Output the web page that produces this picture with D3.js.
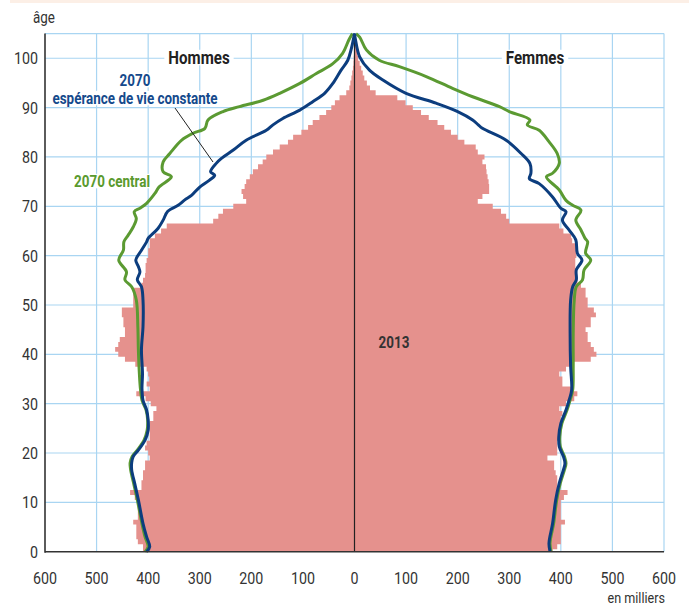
<!DOCTYPE html>
<html><head><meta charset="utf-8">
<script src="https://cdn.jsdelivr.net/npm/d3@7"></script>
<style>
html,body{margin:0;padding:0;background:#fff;}
svg text{font-family:Roboto,"Liberation Sans",sans-serif;}
</style></head>
<body><svg id="c" width="689" height="607"></svg>
<script>
// 2013 population by single age (0..105), thousands
const menValues = [410,410,420,423,423,423,429,420,420,420,420,426,435,413,413,410,410,406,406,397,
400,406,403,397,397,397,397,390,390,384,395,405,423,397,403,398,400,403,425,445,
458,464,458,455,445,445,448,448,451,451,429,429,429,429,413,410,406,405,405,403,
400,400,397,397,387,375,364,274,264,255,235,210,216,219,213,210,203,197,187,178,
171,158,145,129,119,103,90,81,68,55,45,38,29,16,10,8,6,4.5,3,2,
1.5,1,0.6,0.4,0.2,0.1];
const womenValues = [384,393,400,400,400,400,408,400,400,400,400,406,413,393,393,393,390,387,387,374,
393,393,393,400,400,400,400,400,403,397,410,426,432,420,403,403,397,410,422,458,
469,464,458,452,452,448,458,458,468,464,452,452,448,448,439,432,430,430,428,428,
430,430,432,422,420,405,397,300,294,284,268,239,248,261,261,260,258,256,255,248,
252,239,235,213,200,187,174,161,144,129,113,99,83,41,30,24,19,16,13,10,
7,5,3,2,1,0.5];
// 2070 projections: [age, thousands]
const menCentral = [[0,406],[1,400],[3,406],[5.7,412],[10.5,421],[13.8,428],[16.6,434],[18,435],[19.3,431],[20.6,421],[22.6,408],[24.6,402],[26.7,401],[28.7,404],[30.7,412],[33,415],[36,417],[41,419],[45.6,420],[51,423],[53.7,432],[55.1,445],[56.7,442],[59.1,457],[61.1,448],[62.8,447],[64.1,439],[65.8,429],[67.5,423],[68.9,427],[69.6,416],[70.6,403],[72.6,387],[73.9,379],[76,355],[77,371],[79,371],[80.7,358],[83.4,335],[84.8,313],[85.8,290],[87.5,284],[89.2,255],[90.2,223],[91.5,177],[92.9,145],[94.9,106],[96.9,74],[98.9,42],[101,23],[103.7,11],[105,4]];
const menConstant = [[0,403],[1,397],[3,403],[5.7,410],[10.5,419],[13.8,426],[16.6,432],[18,432],[19.3,429],[20.6,419],[22.6,406],[24.6,400],[26.7,400],[28.7,403],[30.7,410],[33,412],[36,411],[41,413],[45.6,410],[51,410],[53.7,413],[55.1,421],[56.7,416],[57.8,419],[59.1,424],[61.1,413],[62.8,403],[63.5,400],[65.5,381],[67.2,371],[69,362],[70.2,342],[71.3,329],[72.2,316],[73.9,300],[75.3,281],[76.3,271],[77,279],[78.7,268],[79.7,258],[81.4,235],[83.4,210],[85.4,171],[86.5,158],[87.8,139],[89.5,106],[91.2,81],[92.9,58],[94.9,42],[97.6,26],[99.6,13],[102,6],[105,0]];
const womenCentral = [[0,381],[1.7,379],[5.7,386],[10.5,392],[13.9,399],[16.6,407],[17.9,410],[19.3,407],[21.3,399],[23.3,398],[26,402],[28.7,412],[30.7,418],[32.8,423],[37.5,424],[44.2,424],[51,426],[53.7,430],[55.1,442],[57.1,445],[59.1,458],[60.5,448],[62.8,452],[63.5,447],[65.2,439],[67.2,429],[69.2,439],[70.2,423],[71.2,410],[73.3,397],[76,372],[76.7,384],[78.7,397],[80.7,393],[83.1,377],[85.4,358],[86.5,335],[87.5,340],[89.2,300],[90.2,281],[92.2,229],[93.9,190],[96.3,139],[98.3,87],[99.6,48],[101.7,23],[104.3,10],[105,3]];
const womenConstant = [[0,379],[1.7,377],[5.7,384],[10.5,390],[13.9,397],[16.6,405],[17.9,408],[19.3,405],[21.3,397],[23.3,396],[26,400],[28.7,410],[30.7,416],[32.8,421],[37.5,419],[44.2,418],[51,419],[53.7,423],[55.1,430],[57.1,430],[59.1,441],[60.5,432],[63.2,429],[65.2,416],[67.2,403],[68.9,410],[69.6,400],[71.9,384],[74.6,358],[75.6,339],[76.7,342],[78.7,340],[80.7,323],[83.4,294],[85.8,248],[86.5,240],[87.5,229],[89.2,200],[90.9,158],[92.9,100],[95.6,55],[97.6,29],[100.3,10],[103.7,2],[105,0]];
const xTicks = [-600,-500,-400,-300,-200,-100,0,100,200,300,400,500,600];
const yTicks = [0,10,20,30,40,50,60,70,80,90,100];

const svg = d3.select("#c");
const x = d3.scaleLinear().domain([-600,600]).range([45,664]);
const y = d3.scaleLinear().domain([0,105]).range([551.7,33.6]);
const gridC = "#a9d5f2", pink = "#e5918d", green = "#5b9a32", blue = "#0c3d7e";
const SX = 0.84; // condensed look

function txt(parent, tx, ty, str, opt){
  opt = opt || {};
  return parent.append("text")
    .attr("transform", `translate(${tx},${ty}) scale(${SX},1)`)
    .attr("text-anchor", opt.anchor || "start")
    .attr("font-size", opt.size || 17)
    .attr("font-weight", opt.weight || "normal")
    .attr("fill", opt.color || "#333")
    .text(str);
}

// top band
svg.append("rect").attr("x",10).attr("y",0).attr("width",679).attr("height",3).attr("fill","#fcefe6");

// grid
const g = svg.append("g");
g.selectAll("line.v").data(xTicks.filter(d=>d!==-600)).join("line")
  .attr("x1",d=>x(d)).attr("x2",d=>x(d)).attr("y1",y(105)).attr("y2",y(0))
  .attr("stroke",gridC).attr("stroke-width",1.2);
g.selectAll("line.h").data(yTicks.filter(d=>d>0).concat([105])).join("line")
  .attr("x1",x(-600)).attr("x2",x(600)).attr("y1",d=>y(d)).attr("y2",d=>y(d))
  .attr("stroke",gridC).attr("stroke-width",1.2);

// bars as stepped areas (each age band is centred on its age)
function steps(values){
  const pts = [];
  values.forEach((v,i)=>{ pts.push({a:Math.max(i-0.5,0), v}); pts.push({a:i+0.5, v}); });
  return pts;
}
const areaM = d3.area().y(d=>y(d.a)).x0(x(0)).x1(d=>x(-d.v));
const areaW = d3.area().y(d=>y(d.a)).x0(x(0)).x1(d=>x(d.v));
svg.append("clipPath").attr("id","pc").append("rect")
  .attr("x",x(-600)).attr("y",y(105)).attr("width",x(600)-x(-600)).attr("height",y(0)-y(105));
const bars = svg.append("g").attr("clip-path","url(#pc)");
bars.append("path").attr("d",areaM(steps(menValues))).attr("fill",pink);
bars.append("path").attr("d",areaW(steps(womenValues))).attr("fill",pink);

// center line
svg.append("line").attr("x1",x(0)).attr("x2",x(0)).attr("y1",y(105)).attr("y2",y(0))
  .attr("stroke","#222").attr("stroke-width",1.2);

// projection lines
const lineM = d3.line().x(d=>x(-d[1])).y(d=>y(d[0])).curve(d3.curveCatmullRom.alpha(0.5));
const lineW = d3.line().x(d=>x(d[1])).y(d=>y(d[0])).curve(d3.curveCatmullRom.alpha(0.5));
const lg = svg.append("g").attr("fill","none").attr("stroke-width",3).attr("stroke-linejoin","round");
lg.append("path").attr("d",lineM(menCentral)).attr("stroke",green);
lg.append("path").attr("d",lineW(womenCentral)).attr("stroke",green);
lg.append("path").attr("d",lineM(menConstant)).attr("stroke",blue);
lg.append("path").attr("d",lineW(womenConstant)).attr("stroke",blue);

// axes
svg.append("line").attr("x1",x(-600)).attr("x2",x(-600)).attr("y1",y(105)).attr("y2",y(0)+1)
  .attr("stroke","#333").attr("stroke-width",1.6);
svg.append("line").attr("x1",x(-600)).attr("x2",x(600)).attr("y1",y(0)).attr("y2",y(0))
  .attr("stroke","#333").attr("stroke-width",1.6);

yTicks.forEach(d=>txt(svg, 38, y(d)+6, d, {anchor:"end", size:17}));
xTicks.forEach(d=>txt(svg, x(d), 584, Math.abs(d), {anchor:"middle", size:17}));
txt(svg, 33, 23, "âge", {size:16});
txt(svg, 665, 603, "en milliers", {anchor:"end", size:15});

// labels with white boxes
function boxedText(tx, ty, str, color, size){
  const grp = svg.append("g");
  const r = grp.append("rect").attr("fill","#fff");
  const t = txt(grp, tx, ty, str, {anchor:"middle", size, weight:"bold", color});
  const b = t.node().getBBox();
  r.attr("x",tx + b.x*SX - 4).attr("y",ty + b.y + 2).attr("width",b.width*SX + 8).attr("height",b.height - 5);
  return grp;
}
boxedText(199,64,"Hommes","#222",18);
boxedText(535,64,"Femmes","#222",18);
boxedText(135,86,"2070","#154a8c",16);
boxedText(135,104,"espérance de vie constante","#154a8c",16);
boxedText(112,187,"2070 central","#5a9a2e",16);
svg.append("line").attr("x1",175).attr("y1",108).attr("x2",213).attr("y2",162)
  .attr("stroke","#222").attr("stroke-width",1);
txt(svg, 394, 348, "2013", {anchor:"middle", size:16, weight:"bold", color:"#333"});
</script></body></html>
